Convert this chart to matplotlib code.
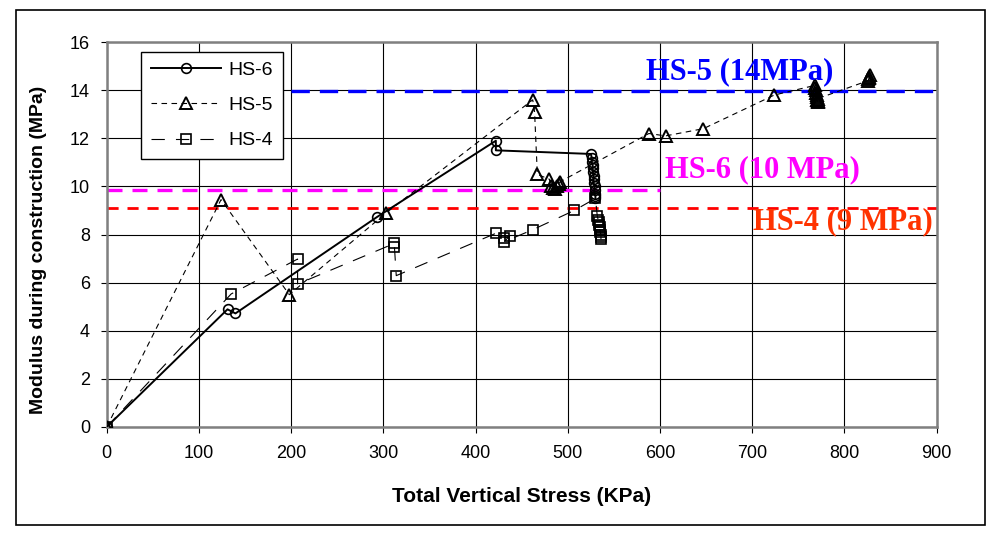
import matplotlib
matplotlib.use("Agg")
import matplotlib.pyplot as plt
from matplotlib.patches import Rectangle

# ---- data ----
hs6_x = [0, 131, 139.6, 293.6, 422, 422, 525, 526, 526, 527, 527, 527, 528, 528, 528, 529, 529, 529, 530, 530]
hs6_y = [0, 4.89, 4.72, 8.74, 11.9, 11.5, 11.35, 11.2, 11.0, 10.9, 10.75, 10.6, 10.45, 10.3, 10.15, 10.0,
         9.85, 9.7, 9.6, 9.5]

hs5_x = [0, 124, 198, 303, 462, 464, 467, 480, 482, 484, 486, 488, 490, 492, 588, 606, 647, 724,
         768, 768, 769, 769, 770, 770, 770, 771, 771, 771, 826, 826, 827, 827, 828]
hs5_y = [0, 9.45, 5.5, 8.9, 13.6, 13.1, 10.5, 10.3, 10.0, 9.95, 9.9, 10.0, 10.1, 10.2, 12.2, 12.1, 12.4, 13.8,
         14.2, 14.1, 14.0, 13.9, 13.8, 13.7, 13.6, 13.55, 13.5, 13.65, 14.4, 14.45, 14.5, 14.55, 14.65]

hs4_x = [0, 135, 207, 207, 312, 312, 314, 422, 431, 437, 431, 462, 507, 530, 532, 533, 534, 534, 535, 535,
         535, 536, 536, 536]
hs4_y = [0, 5.53, 6.98, 5.94, 7.63, 7.5, 6.29, 8.05, 7.84, 7.94, 7.7, 8.2, 9.0, 9.5, 8.77, 8.6, 8.5, 8.4,
         8.3, 8.2, 8.1, 8.0, 7.9, 7.8]

ref_labels = ["HS-5 (14MPa)", "HS-6 (10 MPa)", "HS-4 (9 MPa)"]
ref_values = [13.95, 9.85, 9.1]
ref_x0 = [200, 0, 0]
ref_x1 = [900, 600, 900]

xticks = list(range(0, 901, 100))
yticks = list(range(0, 17, 2))

plt.rcParams['font.family'] = ['Liberation Sans', 'DejaVu Sans']

fig = plt.figure(figsize=(9.88, 5.33), dpi=100)
ax = fig.add_axes([0.108, 0.199, 0.840, 0.722])

# reference lines
ax.plot([ref_x0[0], ref_x1[0]], [ref_values[0]] * 2, color='#0000FF', lw=2.4,
        linestyle=(0, (5.5, 3.0)), zorder=2)
ax.plot([ref_x0[1], ref_x1[1]], [ref_values[1]] * 2, color='#FF00FF', lw=2.4,
        linestyle=(0, (4.5, 3.0)), zorder=2)
ax.plot([ref_x0[2], ref_x1[2]], [ref_values[2]] * 2, color='#FF0000', lw=2.0,
        linestyle=(0, (4.0, 3.2)), zorder=2)

# series
ax.plot(hs6_x, hs6_y, color='black', lw=1.4, marker='o', markersize=7,
        markerfacecolor='none', markeredgecolor='black', markeredgewidth=1.2,
        label='HS-6', zorder=4)
ax.plot(hs5_x, hs5_y, color='black', lw=0.8, linestyle=(0, (5, 4)), marker='^', markersize=8,
        markerfacecolor='none', markeredgecolor='black', markeredgewidth=1.4,
        label='HS-5', zorder=4)
ax.plot(hs4_x, hs4_y, color='black', lw=0.8, linestyle=(0, (12, 10)), marker='s', markersize=7,
        markerfacecolor='none', markeredgecolor='black', markeredgewidth=1.2,
        label='HS-4', zorder=4)

# annotations
ax.text(686, 14.75, ref_labels[0], color='#0000FF', fontsize=22, fontweight='bold',
        family='Liberation Serif', ha='center', va='center', zorder=5)
ax.text(711, 10.68, ref_labels[1], color='#FF00FF', fontsize=22, fontweight='bold',
        family='Liberation Serif', ha='center', va='center', zorder=5)
ax.text(798, 8.52, ref_labels[2], color='#FF3300', fontsize=22, fontweight='bold',
        family='Liberation Serif', ha='center', va='center', zorder=5)

ax.set_xlim(0, 900)
ax.set_ylim(0, 16)
ax.set_xticks(xticks)
ax.set_yticks(yticks)
ax.tick_params(axis='both', labelsize=13, direction='out', length=4, color='black')
ax.tick_params(axis='x', pad=9)
ax.tick_params(axis='y', pad=8)
ax.grid(True, color='black', lw=0.8, zorder=0)
ax.set_axisbelow(True)
for s in ax.spines.values():
    s.set_color('#808080')
    s.set_linewidth(1.8)

ax.set_xlabel('Total Vertical Stress (KPa)', fontsize=15, fontweight='bold', labelpad=18)
ax.set_ylabel('Modulus during construction (MPa)', fontsize=14, fontweight='bold', labelpad=14)
ax.yaxis.set_label_coords(-0.072, 0.46)

leg = ax.legend(loc='upper left', bbox_to_anchor=(0.03, 1.0), fontsize=14, frameon=True,
                fancybox=False, edgecolor='black', handlelength=3.6, handletextpad=0.4,
                borderpad=0.5, labelspacing=0.9, framealpha=1)
leg.get_frame().set_linewidth(1.0)

# outer frame
fig.patches.append(Rectangle((16 / 988, 1 - 525 / 533), (985 - 16) / 988, (525 - 10) / 533,
                             transform=fig.transFigure, fill=False, edgecolor='black', lw=1.2))

fig.savefig('out.png', dpi=100)
